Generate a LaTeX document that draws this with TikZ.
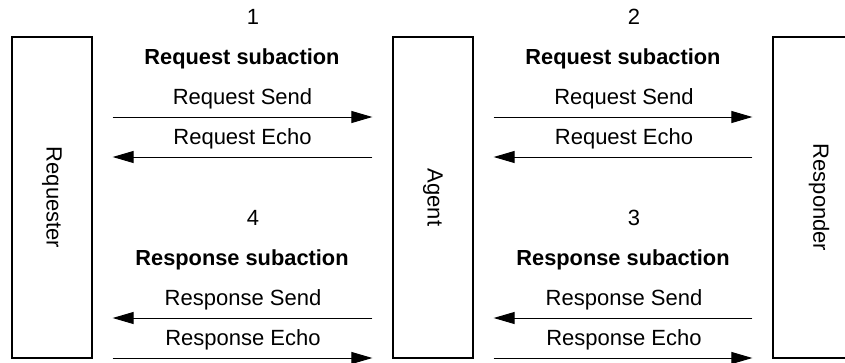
\documentclass[tikz,border=0pt]{standalone}
\usepackage{fontspec}
\setmainfont{Liberation Sans}
\usetikzlibrary{arrows.meta,calc}

\tikzset{
  party/.style={draw=black, line width=1.3pt, minimum width=80pt, minimum height=321pt,
                inner sep=0pt, font=\fontsize{22pt}{26pt}\selectfont},
  msg/.style={-{Triangle[length=21pt,width=12pt]}, line width=1pt},
  lbl/.style={anchor=base, inner sep=0pt, font=\fontsize{22pt}{26pt}\selectfont},
  head/.style={lbl, font=\fontsize{21.8pt}{26pt}\selectfont\bfseries},
}

\begin{document}
\begin{tikzpicture}[x=1pt, y=-1pt]
  \useasboundingbox (0,0) rectangle (845,362);
  \clip (0,0) rectangle (845,362);

  % the three parties
  \node[party] (req)   at (52,197.5)  {};
  \node[party] (agent) at (433,197.5) {};
  \node[party, minimum width=92pt] (resp) at (819,197.5) {};
  \node[rotate=-90, font=\fontsize{22pt}{26pt}\selectfont] (reqtxt)   at (req.center)   {Requester};
  \node[rotate=-90, font=\fontsize{22pt}{26pt}\selectfont] (agenttxt) at (agent.center) {Agent};
  \node[rotate=-90, font=\fontsize{22pt}{26pt}\selectfont] (resptxt)  at (resp.center)  {Responder};

  % rows of the message arrows
  \coordinate (y1) at (0,117);
  \coordinate (y2) at (0,157);
  \coordinate (y3) at (0,318);
  \coordinate (y4) at (0,358);

  % step numbers and headings
  \node[lbl] (n1) at (253,24) {1};
  \node[lbl] (n2) at (634,24) {2};
  \node[lbl] (n4) at (253,225) {4};
  \node[lbl] (n3) at (634,225) {3};
  \node[head] (h1) at (242,64) {Request subaction};
  \node[head] (h2) at (623,64) {Request subaction};
  \node[head] (h4) at (242,265) {Response subaction};
  \node[head] (h3) at (623,265) {Response subaction};

  % message labels
  \node[lbl] (l1a) at (242.5,104) {Request Send};
  \node[lbl] (l1b) at (242.5,144) {Request Echo};
  \node[lbl] (l2a) at (624,104) {Request Send};
  \node[lbl] (l2b) at (624,144) {Request Echo};
  \node[lbl] (l4a) at (243,305) {Response Send};
  \node[lbl] (l4b) at (243,345) {Response Echo};
  \node[lbl] (l3a) at (624,305) {Response Send};
  \node[lbl] (l3b) at (624,345) {Response Echo};

  % requester <-> agent
  \draw[msg] ($(req.east |- y1)+(20,0)$) -- ($(agent.west |- y1)+(-20,0)$);
  \draw[msg] ($(agent.west |- y2)+(-20,0)$) -- ($(req.east |- y2)+(20,0)$);
  \draw[msg] ($(agent.west |- y3)+(-20,0)$) -- ($(req.east |- y3)+(20,0)$);
  \draw[msg] ($(req.east |- y4)+(20,0)$) -- ($(agent.west |- y4)+(-20,0)$);

  % agent <-> responder
  \draw[msg] ($(agent.east |- y1)+(20,0)$) -- ($(resp.west |- y1)+(-20,0)$);
  \draw[msg] ($(resp.west |- y2)+(-20,0)$) -- ($(agent.east |- y2)+(20,0)$);
  \draw[msg] ($(resp.west |- y3)+(-20,0)$) -- ($(agent.east |- y3)+(20,0)$);
  \draw[msg] ($(agent.east |- y4)+(20,0)$) -- ($(resp.west |- y4)+(-20,0)$);
\end{tikzpicture}
\end{document}
